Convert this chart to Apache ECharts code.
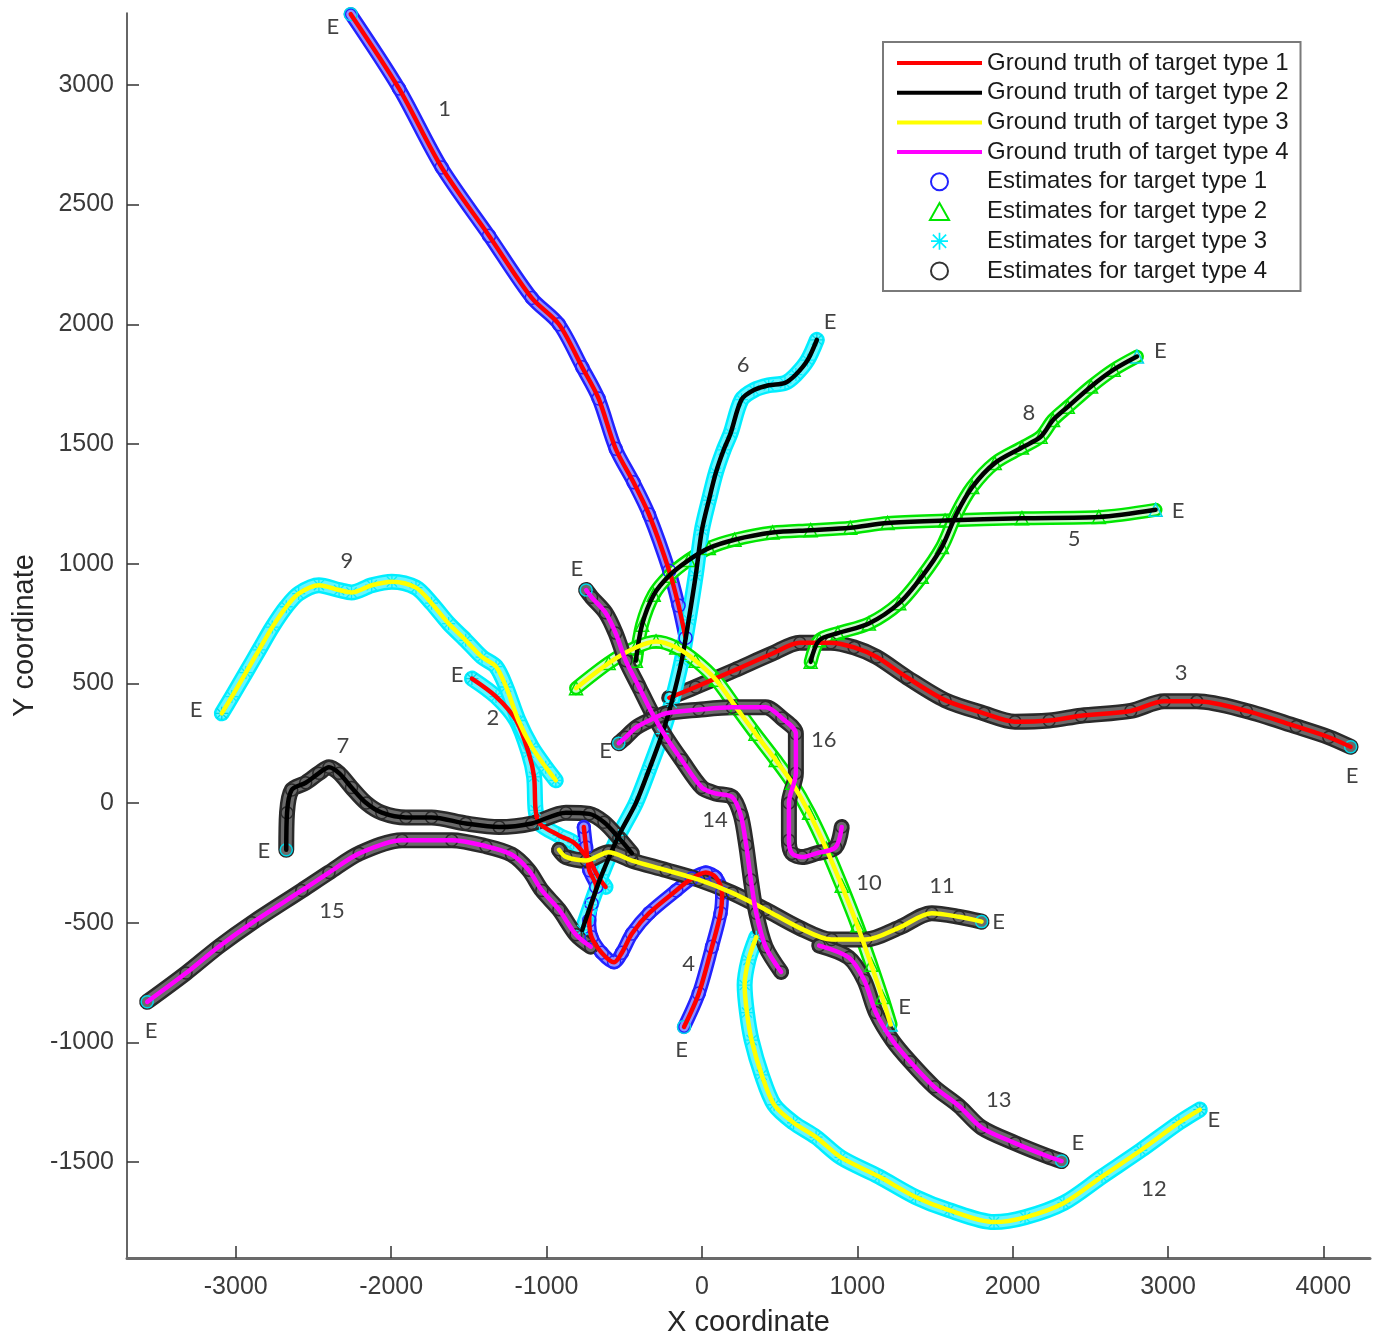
<!DOCTYPE html>
<html><head><meta charset="utf-8">
<script src="https://cdn.jsdelivr.net/npm/echarts/dist/echarts.min.js"></script>
<style>html,body{margin:0;padding:0;background:#fff}#c{width:1377px;height:1335px}</style>
</head><body><div id="c"></div><script>
// ---------- data ----------
const X_TICKS = [-3000, -2000, -1000, 0, 1000, 2000, 3000, 4000];
const Y_TICKS = [-1500, -1000, -500, 0, 500, 1000, 1500, 2000, 2500, 3000];

// Track waypoints, ordered from start to the "E" (end) point
const T1 = [[-105,690],[-150,825],[-210,970],[-340,1205],[-440,1340],[-555,1480],[-665,1690],[-770,1820],[-920,2000],[-1095,2110],[-1370,2370],[-1675,2655],[-1950,2985],[-2260,3295]];
const T2 = [[-620,-350],[-665,-310],[-725,-240],[-825,-165],[-920,-135],[-1045,-85],[-1070,-30],[-1080,110],[-1115,210],[-1195,345],[-1325,445],[-1480,520]];
const T3 = [[-210,440],[-40,485],[210,555],[455,625],[630,670],[830,670],[980,650],[1125,610],[1320,525],[1565,430],[1815,375],[2015,340],[2235,345],[2440,365],[2760,385],[2975,425],[3185,425],[3505,385],[3825,320],[4035,275],[4175,235]];
const T4 = [[-760,-100],[-745,-185],[-725,-280],[-680,-350],[-710,-420],[-725,-490],[-710,-560],[-645,-625],[-565,-665],[-515,-625],[-450,-545],[-340,-460],[-165,-365],[-65,-315],[25,-290],[90,-310],[130,-375],[120,-460],[65,-600],[-20,-795],[-115,-935]];
const T5 = [[-425,595],[-385,745],[-310,870],[-210,950],[-85,1015],[45,1065],[210,1100],[455,1130],[700,1140],[955,1150],[1195,1170],[1565,1180],[2060,1190],[2555,1195],[2920,1225]];
const T6 = [[-770,-530],[-715,-425],[-645,-300],[-535,-135],[-425,0],[-340,140],[-255,290],[-195,420],[-130,595],[-85,765],[-40,950],[0,1140],[45,1265],[90,1380],[140,1475],[185,1545],[255,1685],[335,1725],[430,1745],[535,1755],[605,1790],[680,1850],[740,1935]];
const T7 = [[-450,-210],[-535,-145],[-630,-80],[-725,-45],[-875,-40],[-1095,-85],[-1305,-100],[-1520,-85],[-1740,-60],[-1905,-60],[-2060,-40],[-2160,0],[-2255,65],[-2335,125],[-2400,150],[-2465,125],[-2550,85],[-2640,55],[-2670,-40],[-2675,-195]];
const T8 = [[700,590],[755,680],[875,710],[1075,750],[1270,835],[1415,945],[1545,1070],[1640,1210],[1740,1320],[1885,1420],[2060,1485],[2180,1530],[2260,1600],[2355,1655],[2505,1740],[2650,1810],[2800,1865]];
const T9 = [[-940,95],[-1005,150],[-1095,235],[-1180,345],[-1260,485],[-1325,570],[-1415,610],[-1520,680],[-1630,750],[-1740,835],[-1840,900],[-1995,925],[-2125,910],[-2255,880],[-2335,890],[-2465,910],[-2595,875],[-2675,820],[-2765,735],[-2850,640],[-2935,545],[-3025,445],[-3090,375]];
const T10 = [[-810,480],[-600,585],[-425,650],[-295,675],[-165,650],[-40,595],[90,515],[220,400],[345,290],[475,180],[580,85],[690,-40],[800,-190],[900,-345],[1000,-510],[1090,-675],[1160,-810],[1215,-925]];
const T11 = [[-920,-195],[-875,-225],[-745,-240],[-600,-205],[-450,-240],[-230,-280],[-20,-320],[195,-375],[410,-445],[625,-520],[835,-570],[1055,-570],[1270,-520],[1480,-460],[1655,-475],[1800,-495]];
const T12 = [[350,-560],[300,-655],[275,-760],[290,-875],[320,-990],[385,-1135],[465,-1260],[590,-1335],[735,-1395],[895,-1480],[1140,-1560],[1375,-1645],[1590,-1700],[1880,-1750],[2080,-1730],[2330,-1670],[2575,-1560],[2825,-1450],[3070,-1335],[3205,-1280]];
const T13 = [[755,-595],[945,-645],[1045,-740],[1120,-875],[1225,-990],[1340,-1080],[1495,-1185],[1655,-1265],[1800,-1355],[2015,-1420],[2225,-1475],[2315,-1495]];
const T14 = [[510,-705],[410,-600],[350,-460],[315,-320],[285,-175],[250,-50],[195,25],[90,40],[0,65],[-130,180],[-230,275],[-320,375],[-405,485],[-490,595],[-555,710],[-620,795],[-710,860],[-745,890]];
const T15 = [[-715,-600],[-810,-550],[-920,-445],[-1030,-365],[-1115,-280],[-1225,-215],[-1390,-180],[-1610,-155],[-1930,-155],[-2205,-210],[-2400,-290],[-2575,-365],[-2895,-500],[-3110,-600],[-3320,-710],[-3570,-830]];
const T16 = [[900,-100],[860,-185],[735,-210],[645,-225],[580,-210],[560,-155],[560,0],[605,125],[605,290],[515,355],[410,400],[195,400],[-20,390],[-230,375],[-340,345],[-425,315],[-490,275],[-535,250]];

// target type of the ground truth and of the estimates, per track
const GT_TYPE  = [1,1,1,1, 2,2,2,2, 3,3,3,3, 4,4,4,4];
const EST_TYPE = [1,3,4,1, 2,3,4,2, 3,2,4,3, 4,4,4,4];

// text annotations: track numbers and end markers
const NUM_LABELS = [[-1655,2900,'1'],[-1345,355,'2'],[3085,545,'3'],[-85,-670,'4'],[2395,1105,'5'],[265,1830,'6'],[-2310,240,'7'],[2105,1630,'8'],[-2285,1010,'9'],[1075,-335,'10'],[1545,-345,'11'],[2910,-1610,'12'],[1910,-1240,'13'],[85,-70,'14'],[-2380,-450,'15'],[785,265,'16']];
const END_LABELS = [[-2375,3240],[-1575,535],[4185,115],[-130,-1030],[3065,1220],[825,2010],[-2820,-200],[2950,1890],[-3255,390],[1305,-850],[1910,-495],[3295,-1325],[2420,-1420],[-805,980],[-3545,-950],[-620,220]];

const LEGEND_GT  = ['Ground truth of target type 1','Ground truth of target type 2','Ground truth of target type 3','Ground truth of target type 4'];
const LEGEND_EST = ['Estimates for target type 1','Estimates for target type 2','Estimates for target type 3','Estimates for target type 4'];

// ---------- styles ----------
const TRACKS = [T1,T2,T3,T4,T5,T6,T7,T8,T9,T10,T11,T12,T13,T14,T15,T16];
const GT_COLOR  = {1:'#ff0000', 2:'#000000', 3:'#ffff00', 4:'#ff00ff'};
const EST_COLOR = {1:'#2222ff', 2:'#00e600', 3:'#00eeff', 4:'#2a2a2a'};
const STAR = 'path://M9,0h2v20h-2z M0,9h20v2h-20z M1.5,2.9L2.9,1.5L18.5,17.1L17.1,18.5z M17.1,1.5L18.5,2.9L2.9,18.5L1.5,17.1z';
const TRI = 'path://M10,1L19,17H1Z';
const EST_SYMBOL = {1:'circle', 2:'triangle', 3:STAR, 4:'circle'};
const EST_FILLED = {1:false, 2:false, 3:true, 4:false};
const EST_SIZE = {1:13, 2:13, 3:13, 4:12};
const BAND_W = {1:14, 2:14, 3:16, 4:16};
const INNER_OP = {1:0.5, 2:0.8, 3:0.4, 4:0.3};
const END_COLOR = '#00d8e8';
const SMOOTH = 0.3;
const FONT = 'Liberation Sans, Arial, sans-serif';

function markerStyle(e, color) {
  return EST_FILLED[e]
    ? {color: color, borderWidth: 0}
    : {color: 'rgba(255,255,255,0)', borderColor: color, borderWidth: 1.5};
}

const series = [];
TRACKS.forEach((pts, i) => {
  const e = EST_TYPE[i];
  series.push({type:'line', name:'band'+(i+1), data:pts, smooth:SMOOTH, symbol:'none', z:2, silent:true,
    lineStyle:{color:EST_COLOR[e], width:BAND_W[e], cap:'round', join:'round'}});
  series.push({type:'line', name:'inner'+(i+1), data:pts, smooth:SMOOTH, symbol:'none', z:2, silent:true,
    lineStyle:{color:'#ffffff', width:BAND_W[e]-5, opacity:INNER_OP[e], cap:'round', join:'round'}});
  series.push({type:'line', name:LEGEND_EST[e-1], smooth:SMOOTH, z:2, silent:true,
    data: pts.map((p, k) => k === pts.length - 1 ? {value:p, itemStyle:markerStyle(e, END_COLOR)} : p),
    symbol:EST_SYMBOL[e], symbolSize:EST_SIZE[e], showSymbol:true, showAllSymbol:true,
    lineStyle:{width:0, opacity:0}, itemStyle:markerStyle(e, EST_COLOR[e])});
});
TRACKS.forEach((pts, i) => {
  const g = GT_TYPE[i];
  series.push({type:'line', name:LEGEND_GT[g-1], data:pts, smooth:SMOOTH, symbol:'none', z:3, silent:true,
    lineStyle:{color:GT_COLOR[g], width:4.5, cap:'round', join:'round'}, itemStyle:{color:GT_COLOR[g]}});
});
const labelData = NUM_LABELS.map(d => ({value:[d[0], d[1]], name:d[2]}))
  .concat(END_LABELS.map(d => ({value:[d[0], d[1]], name:'E'})));
series.push({type:'scatter', name:'annotations', data:labelData, symbol:'circle', symbolSize:1, z:5, silent:true,
  itemStyle:{color:'rgba(0,0,0,0)'},
  label:{show:true, position:'inside', formatter:'{b}', fontSize:22, fontFamily:'Lato, Open Sans, sans-serif', color:'#111111'}});

const BAR = 'path://M0,0H85V4H0Z';
const legendData = [
  {name:LEGEND_GT[0], icon:BAR, itemStyle:{color:GT_COLOR[1], borderWidth:0}},
  {name:LEGEND_GT[1], icon:BAR, itemStyle:{color:GT_COLOR[2], borderWidth:0}},
  {name:LEGEND_GT[2], icon:BAR, itemStyle:{color:GT_COLOR[3], borderWidth:0}},
  {name:LEGEND_GT[3], icon:BAR, itemStyle:{color:GT_COLOR[4], borderWidth:0}},
  {name:LEGEND_EST[0], icon:'circle', itemStyle:{color:'#ffffff', borderColor:EST_COLOR[1], borderWidth:2}},
  {name:LEGEND_EST[1], icon:TRI, itemStyle:{color:'#ffffff', borderColor:EST_COLOR[2], borderWidth:2}},
  {name:LEGEND_EST[2], icon:STAR, itemStyle:{color:EST_COLOR[3], borderWidth:0}},
  {name:LEGEND_EST[3], icon:'circle', itemStyle:{color:'#ffffff', borderColor:'#333333', borderWidth:2}}
];

const chart = echarts.init(document.getElementById('c'), null, {renderer:'canvas'});
chart.setOption({
  backgroundColor:'#ffffff',
  animation:false,
  grid:{left:127, right:7, top:13, bottom:77, containLabel:false, outerBoundsMode:'none'},
  legend:{
    data:legendData, orient:'vertical', left:883, top:42, selectedMode:false,
    itemWidth:85, itemHeight:17, itemGap:5.7, padding:[9,12,8,14],
    borderColor:'#7a7a7a', borderWidth:2, backgroundColor:'#ffffff',
    textStyle:{fontSize:24, fontFamily:FONT, color:'#1a1a1a'}
  },
  xAxis:{
    type:'value', min:-3700, max:4300,
    name:'X coordinate', nameLocation:'middle', nameGap:50,
    nameTextStyle:{fontSize:29, color:'#262626', fontFamily:FONT},
    axisLine:{show:true, onZero:false, lineStyle:{color:'#6a6a6a', width:3}},
    axisTick:{show:true, inside:true, length:12, customValues:X_TICKS, lineStyle:{color:'#333', width:1.5}},
    axisLabel:{customValues:X_TICKS, formatter:v => String(v), fontSize:25, color:'#3a3a3a', margin:17, fontFamily:FONT},
    splitLine:{show:false}
  },
  yAxis:{
    type:'value', min:-1900, max:3300,
    name:'Y coordinate', nameLocation:'middle', nameGap:87,
    nameTextStyle:{fontSize:29, color:'#262626', fontFamily:FONT},
    axisLine:{show:true, onZero:false, lineStyle:{color:'#333', width:1.5}},
    axisTick:{show:true, inside:true, length:12, customValues:Y_TICKS, lineStyle:{color:'#333', width:1.5}},
    axisLabel:{customValues:Y_TICKS, formatter:v => String(v), fontSize:25, color:'#3a3a3a', margin:13, fontFamily:FONT},
    splitLine:{show:false}
  },
  series:series
});
</script></body></html>
